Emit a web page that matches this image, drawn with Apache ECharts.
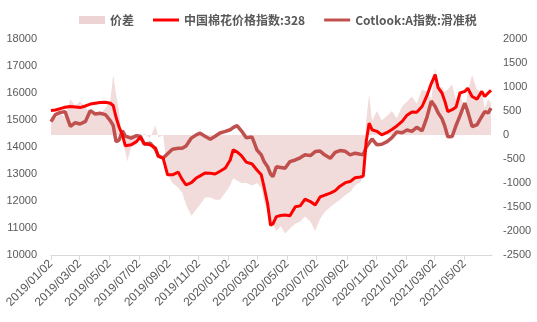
<!DOCTYPE html>
<html>
<head>
<meta charset="utf-8">
<script src="https://cdn.jsdelivr.net/npm/echarts@6/dist/echarts.min.js"></script>
<style>html,body{margin:0;padding:0;background:#fff;}#c{width:537px;height:322px;}</style>
</head>
<body>
<div id="c"></div>
<script>
const tickLabels = ['2019/01/02','2019/03/02','2019/05/02','2019/07/02','2019/09/02','2019/11/02','2020/01/02','2020/03/02','2020/05/02','2020/07/02','2020/09/02','2020/11/02','2021/01/02','2021/03/02','2021/05/02'];
const dates = ['2019/01/02','2019/01/11','2019/01/21','2019/01/31','2019/02/11','2019/02/21','2019/03/03','2019/03/14','2019/03/24','2019/04/03','2019/04/13','2019/04/24','2019/05/04','2019/05/10','2019/05/16','2019/05/22','2019/05/29','2019/06/04','2019/06/08','2019/06/16','2019/06/27','2019/07/05','2019/07/13','2019/07/25','2019/08/05','2019/08/11','2019/08/21','2019/08/30','2019/09/09','2019/09/21','2019/09/29','2019/10/07','2019/10/18','2019/10/28','2019/11/05','2019/11/15','2019/11/26','2019/12/06','2019/12/16','2019/12/27','2020/01/06','2020/01/12','2020/01/20','2020/01/29','2020/02/08','2020/02/20','2020/03/01','2020/03/10','2020/03/16','2020/03/23','2020/03/29','2020/04/03','2020/04/10','2020/04/19','2020/04/28','2020/05/08','2020/05/19','2020/05/29','2020/06/08','2020/06/19','2020/06/29','2020/07/09','2020/07/19','2020/07/30','2020/08/09','2020/08/19','2020/08/30','2020/09/09','2020/09/19','2020/09/30','2020/10/06','2020/10/12','2020/10/18','2020/10/24','2020/11/03','2020/11/13','2020/11/24','2020/12/04','2020/12/14','2020/12/25','2021/01/04','2021/01/14','2021/01/24','2021/02/04','2021/02/14','2021/02/23','2021/03/03','2021/03/09','2021/03/17','2021/03/23','2021/03/29','2021/04/07','2021/04/15','2021/04/23','2021/05/03','2021/05/09','2021/05/18','2021/05/28','2021/06/07','2021/06/13','2021/06/20','2021/06/26'];
const chinaIndex = [15350,15370,15420,15470,15500,15480,15460,15520,15590,15620,15650,15660,15620,15540,15100,14750,14450,14050,14000,14080,14200,14370,14130,14080,13960,13650,13590,12970,12970,13070,12800,12600,12680,12850,12930,13040,13030,13000,13100,13220,13520,13890,13820,13680,13440,13370,13150,12970,12500,11900,11100,11150,11420,11460,11480,11450,11790,11820,12070,11980,11850,12150,12220,12290,12380,12550,12680,12720,12860,12890,12920,14200,14880,14640,14580,14450,14540,14650,14780,14950,15180,15300,15290,15500,15900,16350,16680,16200,16000,15690,15310,15380,15480,16000,16060,16180,15870,15770,16060,15870,16000,16100];
const cotlook = [14940,15200,15280,15310,14760,14900,14850,14950,15350,15220,15250,15200,14980,14800,14200,14250,14600,14400,14330,14330,14420,14400,14100,14140,13920,13670,13590,13750,13920,13950,13950,14040,14330,14450,14510,14400,14290,14400,14520,14580,14640,14720,14790,14600,14340,14370,13890,13710,13450,13270,13000,12900,13270,13240,13210,13460,13520,13600,13710,13680,13830,13850,13700,13580,13800,13870,13840,13710,13770,13730,13710,14000,14150,14300,14080,14100,14200,14350,14560,14530,14630,14580,14730,14600,15100,15700,15500,15270,15050,14760,14380,14390,14800,15150,15630,15310,14760,14820,15130,15310,15260,15440];
const spread = [410,350,450,380,740,620,700,600,420,500,430,560,700,1250,850,500,-150,-350,-550,-250,-200,-50,30,-60,200,-50,0,-800,-1000,-1100,-1200,-1450,-1680,-1550,-1450,-1300,-1300,-1350,-1350,-1200,-1050,-900,-950,-1000,-1000,-1050,-1000,-1100,-1400,-1600,-1900,-1850,-2000,-1900,-2050,-1950,-1850,-1800,-1700,-1800,-2000,-1750,-1600,-1500,-1420,-1350,-1250,-1180,-1050,-980,-900,300,850,300,500,300,400,500,350,600,700,800,650,950,900,750,1400,1000,1000,900,950,1050,700,900,450,900,1250,950,900,550,750,650];
const axisStart = '2019/01/02';
const axisEnd = '2021/06/28';

const ts = s => new Date(s).getTime();
const pair = arr => dates.map((d, i) => [ts(d), arr[i]]);
const tickValues = tickLabels.map(ts);
const pad = n => (n < 10 ? '0' : '') + n;
const fmt = v => { const d = new Date(v); return d.getFullYear() + '/' + pad(d.getMonth() + 1) + '/' + pad(d.getDate()); };
const plain = v => String(v);

const chart = echarts.init(document.getElementById('c'), null, {renderer: 'canvas'});
const txt = '#595959';
chart.setOption({
  animation: false,
  backgroundColor: '#fff',
  legend: {
    top: 9, left: 74,
    itemWidth: 26, itemHeight: 8, itemGap: 19,
    textStyle: {color: txt, fontSize: 12, fontWeight: 'bold', fontFamily: 'Noto Sans CJK SC'},
    data: [
      {name: '价差', icon: 'rect'},
      {name: '中国棉花价格指数:328', icon: 'path://M0,0h26v3h-26z'},
      {name: 'Cotlook:A指数:滑准税', icon: 'path://M0,0h26v3h-26z'}
    ]
  },
  grid: {left: 51, right: 45, top: 39, bottom: 67},
  xAxis: {
    type: 'value',
    min: ts(axisStart), max: ts(axisEnd),
    axisLine: {show: true, onZero: false, lineStyle: {color: '#D9D9D9', width: 1}},
    axisTick: {show: true, length: 5, lineStyle: {color: '#D9D9D9'}, customValues: tickValues},
    axisLabel: {customValues: tickValues, formatter: fmt, rotate: 45, color: txt, fontSize: 12, fontFamily: 'Liberation Sans', margin: 7},
    splitLine: {show: false}
  },
  yAxis: [
    {type: 'value', min: 10000, max: 18000, interval: 1000,
     axisLine: {show: false}, axisTick: {show: false}, splitLine: {show: false},
     axisLabel: {formatter: plain, color: txt, fontSize: 11, fontFamily: 'Liberation Sans', margin: 14}},
    {type: 'value', min: -2500, max: 2000, interval: 500,
     axisLine: {show: false}, axisTick: {show: false}, splitLine: {show: false},
     axisLabel: {formatter: plain, color: txt, fontSize: 11, fontFamily: 'Liberation Sans', margin: 11}}
  ],
  series: [
    {name: '价差', type: 'line', yAxisIndex: 1, data: pair(spread), showSymbol: false, symbol: 'none',
     color: '#EDD3D3', lineStyle: {width: 0}, areaStyle: {color: '#F1DCDB', opacity: 1}, z: 1},
    {name: 'Cotlook:A指数:滑准税', type: 'line', yAxisIndex: 0, data: pair(cotlook), showSymbol: false, symbol: 'none',
     color: '#C0504D', lineStyle: {width: 3.5, color: '#C0504D'}, z: 2},
    {name: '中国棉花价格指数:328', type: 'line', yAxisIndex: 0, data: pair(chinaIndex), showSymbol: false, symbol: 'none',
     color: '#FF0000', lineStyle: {width: 3, color: '#FF0000'}, z: 3}
  ]
});
</script>
</body>
</html>
